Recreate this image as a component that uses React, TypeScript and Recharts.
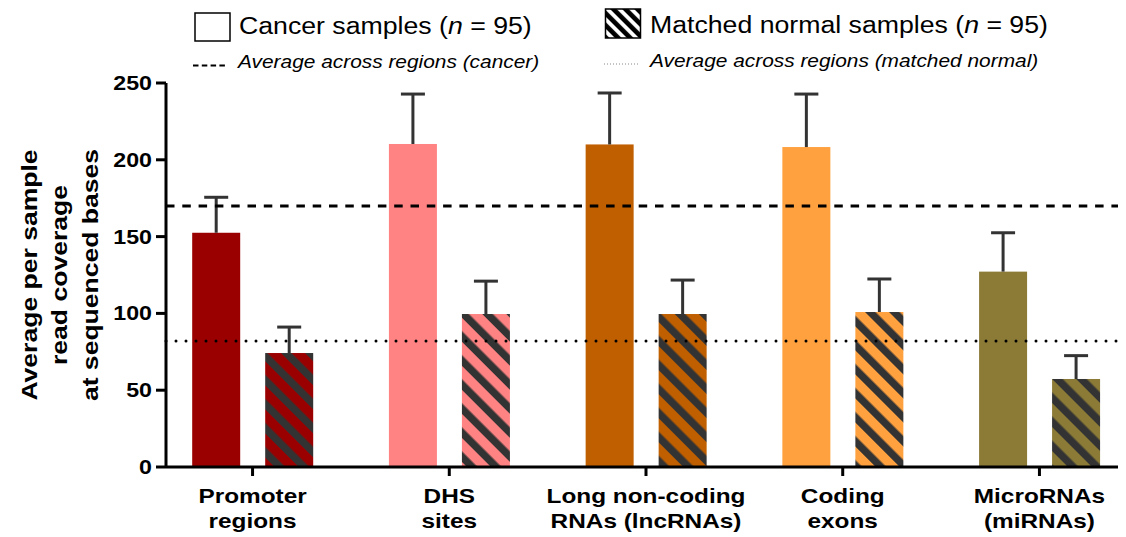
import React from 'react';
import {
  ComposedChart,
  Bar,
  Cell,
  XAxis,
  YAxis,
  ReferenceLine,
  Label,
} from 'recharts';

// Genomic region categories (two-line axis labels)
const categoryLines: string[][] = [
  ['Promoter', 'regions'],
  ['DHS', 'sites'],
  ['Long non-coding', 'RNAs (lncRNAs)'],
  ['Coding', 'exons'],
  ['MicroRNAs', '(miRNAs)'],
];

// Average per-sample read coverage and upper error (SD) per region
const cancerMean = [152.5, 210.3, 210.0, 208.3, 127.2];
const cancerErr = [23.1, 32.5, 33.5, 34.5, 25.3];
const normalMean = [74.2, 99.6, 99.6, 100.9, 57.3];
const normalErr = [16.9, 21.4, 22.1, 21.5, 15.2];

// Averages across all regions
const cancerAverage = 170;
const normalAverage = 82;

const yTicks = [0, 50, 100, 150, 200, 250];
const regionColors = ['#9b0000', '#ff8383', '#c05f00', '#ffa13f', '#8b7b37'];

const data = categoryLines.map((lines, i) => ({
  idx: i,
  name: lines.join(' '),
  cancer: cancerMean[i],
  cancerErr: cancerErr[i],
  normal: normalMean[i],
  normalErr: normalErr[i],
}));

const FONT = '"Liberation Sans", Arial, Helvetica, sans-serif';
const ERR_COLOR = '#333333';
const WIDE = 1.16; // horizontal stretch applied to all text

// Bar rectangle with a one-sided (upper) error whisker
const makeBarShape = (errKey: 'cancerErr' | 'normalErr', valKey: 'cancer' | 'normal') =>
  (props: any) => {
    const { x, y, width, height, fill, payload } = props;
    const value = payload[valKey];
    const pxPerUnit = value ? height / value : 0;
    const errTop = y - payload[errKey] * pxPerUnit;
    const cx = x + width / 2;
    return (
      <g>
        <rect x={x} y={y} width={width} height={height} fill={fill} />
        <line x1={cx} x2={cx} y1={y} y2={errTop} stroke={ERR_COLOR} strokeWidth={3} />
        <line x1={cx - 12} x2={cx + 12} y1={errTop} y2={errTop} stroke={ERR_COLOR} strokeWidth={3} />
      </g>
    );
  };

const XTick = (props: any) => {
  const { x, y, payload } = props;
  const lines = categoryLines[payload.value] || [];
  return (
    <g transform={`translate(${x},${y})`}>
      <text
        transform={`scale(${WIDE},1)`}
        textAnchor="middle"
        fontFamily={FONT}
        fontWeight="bold"
        fontSize={21}
        fill="#000"
      >
        {lines.map((l, i) => (
          <tspan key={i} x={0} y={25 + i * 25}>
            {l}
          </tspan>
        ))}
      </text>
    </g>
  );
};

const YTick = (props: any) => {
  const { x, y, payload } = props;
  return (
    <g transform={`translate(${x},${y})`}>
      <text
        transform={`scale(${WIDE},1)`}
        textAnchor="end"
        dominantBaseline="central"
        fontFamily={FONT}
        fontWeight="bold"
        fontSize={20}
        fill="#000"
      >
        {payload.value}
      </text>
    </g>
  );
};

const YTitle = (props: any) => {
  const vb = props.viewBox || {};
  const cy = vb.y + vb.height / 2;
  const lines = ['Average per sample', 'read coverage', 'at sequenced bases'];
  return (
    <g>
      {lines.map((l, i) => (
        <text
          key={i}
          transform={`translate(${21 + i * 30.5},${cy}) rotate(-90) scale(1.18,1)`}
          textAnchor="middle"
          dominantBaseline="central"
          fontFamily={FONT}
          fontWeight="bold"
          fontSize={22.5}
          fill="#000"
        >
          {l}
        </text>
      ))}
    </g>
  );
};

const LegendText = ({ x, y, size, italic, children }: any) => (
  <text
    transform={`translate(${x},${y}) scale(${WIDE},1)`}
    fontFamily={FONT}
    fontSize={size}
    fontStyle={italic ? 'italic' : 'normal'}
    fill="#000"
  >
    {children}
  </text>
);

// Key for sample groups and average lines
const ChartKey = () => (
  <svg
    width={1118}
    height={72}
    style={{ position: 'absolute', left: 0, top: 0, pointerEvents: 'none' }}
  >
    <defs>
      <pattern id="keyHatch" patternUnits="userSpaceOnUse" width={8.5} height={8.5} patternTransform="rotate(-45)">
        <rect width={8.5} height={8.5} fill="#fff" />
        <rect width={4.6} height={8.5} fill="#000" />
      </pattern>
    </defs>
    <rect x={187} y={5} width={35} height={28} fill="#fff" stroke="#000" strokeWidth={1.5} />
    <LegendText x={231} y={26.3} size={23}>
      Cancer samples (<tspan fontStyle="italic">n</tspan> = 95)
    </LegendText>
    <rect x={597.5} y={1} width={35} height={29} fill="url(#keyHatch)" stroke="#000" strokeWidth={1.5} />
    <LegendText x={642} y={25.3} size={23}>
      Matched normal samples (<tspan fontStyle="italic">n</tspan> = 95)
    </LegendText>
    <line x1={185} x2={217} y1={57.5} y2={57.5} stroke="#000" strokeWidth={2} strokeDasharray="5.5 3.3" />
    <LegendText x={230} y={59.7} size={18} italic>
      Average across regions (cancer)
    </LegendText>
    <line x1={596} x2={630} y1={56} y2={56} stroke="#888" strokeWidth={1} strokeDasharray="1 2" />
    <LegendText x={642} y={58.7} size={18} italic>
      Average across regions (matched normal)
    </LegendText>
  </svg>
);

export default function App() {
  return (
    <div style={{ position: 'relative', width: 1118, height: 529, fontFamily: FONT }}>
      <ComposedChart
        width={1118}
        height={529}
        data={data}
        margin={{ top: 75, right: 0, bottom: 40, left: 98 }}
        barGap={25}
      >
        <defs>
          {regionColors.map((c, i) => (
            <pattern
              key={i}
              id={`hatch-${i}`}
              patternUnits="userSpaceOnUse"
              width={17}
              height={17}
              patternTransform="rotate(-45)"
            >
              <rect width={17} height={17} fill={c} />
              <rect width={7.5} height={17} fill="#333333" />
            </pattern>
          ))}
        </defs>
        <XAxis
          type="number"
          dataKey="idx"
          domain={[-0.44, 4.44]}
          ticks={[0, 1, 2, 3, 4]}
          allowDataOverflow
          height={30}
          axisLine={{ stroke: '#000', strokeWidth: 3 }}
          tickLine={{ stroke: '#000', strokeWidth: 3 }}
          tickSize={9}
          tick={<XTick />}
          interval={0}
        />
        <YAxis
          domain={[0, 250]}
          ticks={yTicks}
          width={60}
          axisLine={{ stroke: '#000', strokeWidth: 3 }}
          tickLine={{ stroke: '#000', strokeWidth: 3 }}
          tickSize={10}
          tick={<YTick />}
          tickMargin={4}
        >
          <Label content={<YTitle />} />
        </YAxis>
        <Bar dataKey="cancer" barSize={48} isAnimationActive={false} shape={makeBarShape('cancerErr', 'cancer')}>
          {data.map((_, i) => (
            <Cell key={i} fill={regionColors[i]} />
          ))}
        </Bar>
        <Bar dataKey="normal" barSize={48} isAnimationActive={false} shape={makeBarShape('normalErr', 'normal')}>
          {data.map((_, i) => (
            <Cell key={i} fill={`url(#hatch-${i})`} />
          ))}
        </Bar>
        <ReferenceLine
          y={cancerAverage}
          stroke="#000"
          strokeWidth={3}
          strokeDasharray="8.5 7.8"
        />
        <ReferenceLine
          y={normalAverage}
          stroke="#000"
          strokeWidth={3}
          strokeDasharray="0 10"
          strokeLinecap="round"
        />
      </ComposedChart>
      <ChartKey />
    </div>
  );
}
